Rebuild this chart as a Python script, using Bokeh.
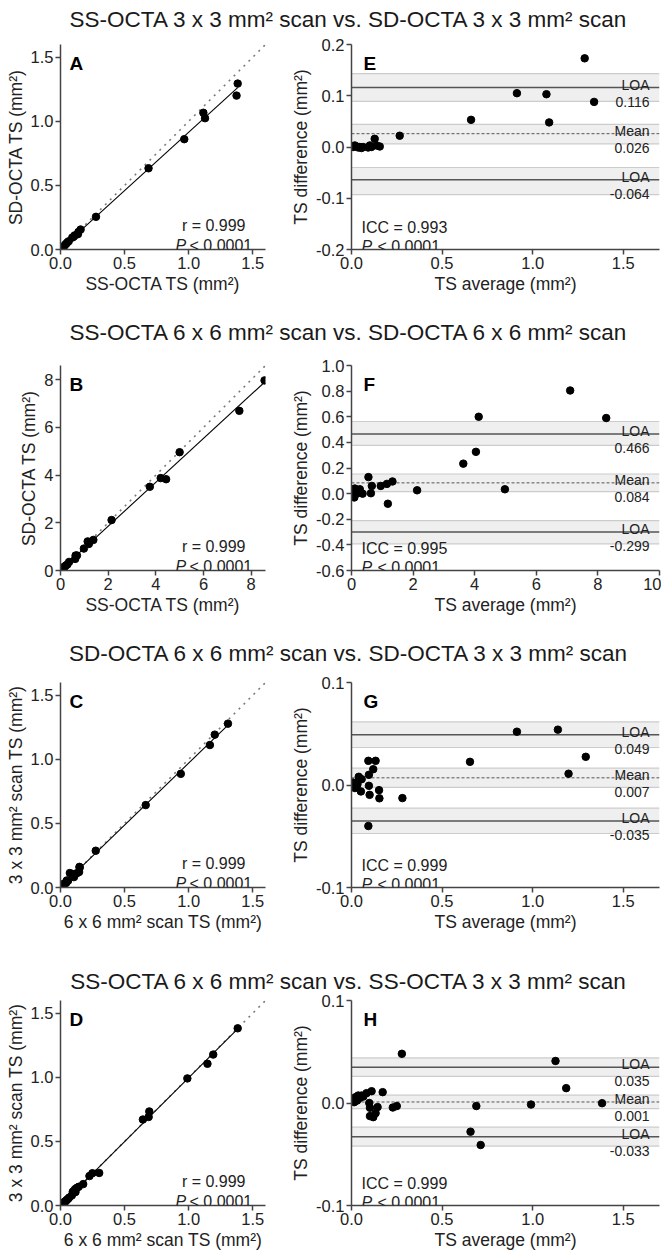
import numpy as np
from bokeh.plotting import figure
from bokeh.models import Div, Label, Span, BoxAnnotation, FixedTicker, NumeralTickFormatter, Range1d
from bokeh.layouts import column, row
from bokeh.embed import file_html
from bokeh.resources import INLINE

# ---------------- data ----------------
titles = [
    "SS-OCTA 3 x 3 mm² scan vs. SD-OCTA 3 x 3 mm² scan",
    "SS-OCTA 6 x 6 mm² scan vs. SD-OCTA 6 x 6 mm² scan",
    "SD-OCTA 6 x 6 mm² scan vs. SD-OCTA 3 x 3 mm² scan",
    "SS-OCTA 6 x 6 mm² scan vs. SS-OCTA 3 x 3 mm² scan",
]
left_letters = ["A", "B", "C", "D"]
right_letters = ["E", "F", "G", "H"]
scatter_xlabels = ["SS-OCTA TS (mm²)", "SS-OCTA TS (mm²)",
                   "6 x 6 mm² scan TS (mm²)", "6 x 6 mm² scan TS (mm²)"]
scatter_ylabels = ["SD-OCTA TS (mm²)", "SD-OCTA TS (mm²)",
                   "3 x 3 mm² scan TS (mm²)", "3 x 3 mm² scan TS (mm²)"]
ba_xlabel = "TS average (mm²)"
ba_ylabel = "TS difference (mm²)"
r_values = ["0.999", "0.999", "0.999", "0.999"]
icc_values = ["0.993", "0.995", "0.999", "0.999"]
p_value_text = "< 0.0001"

# Panel A (x: SS-OCTA 3x3, y: SD-OCTA 3x3)
A_x = [0.009, 0.020, 0.029, 0.037, 0.046, 0.054, 0.064, 0.092, 0.103, 0.110,
       0.136, 0.140, 0.157, 0.277, 0.687, 0.966, 1.128, 1.115, 1.374, 1.383]
A_y = [0.009, 0.017, 0.028, 0.038, 0.046, 0.056, 0.064, 0.093, 0.100, 0.110,
       0.120, 0.137, 0.156, 0.255, 0.634, 0.861, 1.025, 1.067, 1.201, 1.295]
# Panel E (Bland-Altman)
E_avg = [0.009, 0.018, 0.028, 0.037, 0.046, 0.055, 0.064, 0.092, 0.101, 0.110,
         0.128, 0.138, 0.156, 0.266, 0.660, 0.913, 1.076, 1.091, 1.287, 1.339]
E_diff = [0.000, 0.003, 0.001, -0.001, 0.000, -0.002, 0.000, -0.001, 0.003, 0.000,
          0.016, 0.003, 0.001, 0.022, 0.053, 0.105, 0.103, 0.048, 0.173, 0.088]
E_lines = [0.116, 0.026, -0.064]                       # upper LOA, mean, lower LOA
E_ci = [(0.089, 0.143), (0.006, 0.044), (-0.093, -0.040)]

# Panel B (x: SS-OCTA 6x6, y: SD-OCTA 6x6)
B_x = [0.010, 0.035, 0.045, 0.080, 0.075, 0.130, 0.145, 0.170, 0.230, 0.287,
       0.360, 0.615, 0.632, 0.690, 0.980, 1.188, 1.140, 1.378, 2.143, 3.747,
       4.203, 4.430, 4.997, 7.503, 8.560]
B_y = [0.010, 0.025, 0.055, 0.060, 0.105, 0.090, 0.135, 0.170, 0.210, 0.253,
       0.360, 0.486, 0.629, 0.630, 0.920, 1.112, 1.220, 1.283, 2.117, 3.513,
       3.877, 3.830, 4.963, 6.698, 7.975]
# Panel F
F_avg = [0.01, 0.03, 0.05, 0.07, 0.09, 0.11, 0.14, 0.17, 0.22, 0.27,
         0.36, 0.55, 0.63, 0.66, 0.95, 1.15, 1.18, 1.33, 2.13, 3.63,
         4.04, 4.13, 4.98, 7.10, 8.27]
F_diff = [0.000, 0.010, -0.010, 0.020, -0.030, 0.040, 0.010, 0.000, 0.020, 0.034,
          0.000, 0.129, 0.003, 0.060, 0.060, 0.076, -0.079, 0.095, 0.026, 0.234,
          0.326, 0.600, 0.034, 0.805, 0.590]
F_lines = [0.466, 0.084, -0.299]
F_ci = [(0.376, 0.563), (0.016, 0.153), (-0.392, -0.210)]

# Panel C (x: SD-OCTA 6x6, y: SD-OCTA 3x3)
C_x = [0.010, 0.017, 0.027, 0.033, 0.044, 0.049, 0.059, 0.105, 0.073, 0.101,
       0.096, 0.095, 0.128, 0.145, 0.150, 0.148, 0.275, 0.665, 0.939, 1.166,
       1.204, 1.307]
C_y = [0.008, 0.020, 0.029, 0.033, 0.036, 0.055, 0.053, 0.081, 0.113, 0.091,
       0.096, 0.105, 0.112, 0.121, 0.155, 0.161, 0.287, 0.643, 0.887, 1.112,
       1.193, 1.279]
# Panel G
G_avg = [0.009, 0.019, 0.028, 0.033, 0.040, 0.052, 0.056, 0.093, 0.093, 0.096,
         0.096, 0.100, 0.120, 0.133, 0.152, 0.154, 0.281, 0.654, 0.913, 1.139,
         1.198, 1.293]
G_diff = [0.0024, -0.0030, -0.0018, 0.0008, 0.0080, -0.0063, 0.0057, 0.0236, -0.0400, 0.0099,
          -0.0008, -0.0096, 0.0154, 0.0236, -0.0050, -0.0130, -0.0128, 0.0226, 0.0520, 0.0540,
          0.0110, 0.0275]
G_lines = [0.049, 0.007, -0.035]
G_ci = [(0.0366, 0.0616), (-0.0024, 0.0164), (-0.0473, -0.0226)]

# Panel D (x: SS-OCTA 6x6, y: SS-OCTA 3x3)
D_x = [0.011, 0.015, 0.025, 0.032, 0.041, 0.049, 0.060, 0.068, 0.088, 0.098,
       0.100, 0.096, 0.117, 0.113, 0.128, 0.142, 0.177, 0.226, 0.249, 0.302,
       0.643, 0.688, 0.693, 0.990, 1.147, 1.192, 1.383]
D_y = [0.007, 0.015, 0.019, 0.030, 0.033, 0.044, 0.052, 0.062, 0.078, 0.098,
       0.104, 0.108, 0.105, 0.127, 0.138, 0.146, 0.167, 0.230, 0.252, 0.254,
       0.671, 0.691, 0.734, 0.992, 1.106, 1.178, 1.383]
# Panel H
H_avg = [0.009, 0.015, 0.022, 0.031, 0.037, 0.046, 0.056, 0.065, 0.083, 0.098,
         0.102, 0.102, 0.111, 0.120, 0.133, 0.144, 0.172, 0.228, 0.250, 0.278,
         0.657, 0.689, 0.713, 0.991, 1.126, 1.185, 1.383]
H_diff = [0.0040, 0.0008, 0.0057, 0.0024, 0.0073, 0.0050, 0.0073, 0.0063, 0.0096, 0.0000,
          -0.0047, -0.0128, 0.0115, -0.0138, -0.0099, -0.0040, 0.0106, -0.0044, -0.0030, 0.0480,
          -0.0280, -0.0030, -0.0410, -0.0015, 0.0410, 0.0145, -0.0002]
H_lines = [0.035, 0.001, -0.033]
H_ci = [(0.026, 0.044), (-0.0054, 0.0076), (-0.042, -0.0236)]

# axis ranges / ticks
scatter_ranges = [((0, 1.6), (0, 1.6)), ((0, 8.6), (0, 8.6)), ((0, 1.6), (0, 1.6)), ((0, 1.6), (0, 1.6))]
scatter_ticks = [[0, 0.5, 1.0, 1.5], [0, 2, 4, 6, 8], [0, 0.5, 1.0, 1.5], [0, 0.5, 1.0, 1.5]]
scatter_fmt = ["0.0", "0", "0.0", "0.0"]
ba_xranges = [(0, 1.7), (0, 10), (0, 1.7), (0, 1.7)]
ba_yranges = [(-0.2, 0.2), (-0.6, 1.0), (-0.1, 0.1), (-0.1, 0.1)]
ba_xticks = [[0, 0.5, 1.0, 1.5], [0, 2, 4, 6, 8, 10], [0, 0.5, 1.0, 1.5], [0, 0.5, 1.0, 1.5]]
ba_yticks = [[-0.2, -0.1, 0.0, 0.1, 0.2], [-0.6, -0.4, -0.2, 0.0, 0.2, 0.4, 0.6, 0.8, 1.0],
             [-0.1, 0.0, 0.1], [-0.1, 0.0, 0.1]]
ba_xfmt = ["0.0", "0", "0.0", "0.0"]

scatter_data = [(A_x, A_y), (B_x, B_y), (C_x, C_y), (D_x, D_y)]
ba_data = [(E_avg, E_diff, E_lines, E_ci), (F_avg, F_diff, F_lines, F_ci),
           (G_avg, G_diff, G_lines, G_ci), (H_avg, H_diff, H_lines, H_ci)]

# ---------------- layout / style ----------------
FONT = "Liberation Sans"
TXT = "#222222"
AXC = "#444444"
TOTAL_W = 661
LEFT_W, LEFT_LB, LEFT_RB = 288, 60, 23
RIGHT_W, RIGHT_LB, RIGHT_RB = TOTAL_W - 288, 62, 2
TOP_B = 8
FRAME_H = 205
fig_heights = [274, 273, 276, 262]
div_heights = [36, 47, 44, 42]
title_offsets = [7, 10, 11, 19]


def make_fig(w, h, lb, rb, xr, yr):
    bb = h - TOP_B - FRAME_H
    p = figure(width=w, height=h, x_range=Range1d(*xr), y_range=Range1d(*yr),
               min_border_left=lb, min_border_right=rb, min_border_top=TOP_B,
               min_border_bottom=bb, toolbar_location=None, tools="",
               output_backend="svg", margin=(0, 0, 0, 0))
    p.grid.visible = False
    p.outline_line_color = None
    p.background_fill_color = "white"
    p.border_fill_color = "white"
    return p


def style_axes(p, xticks, yticks, xfmt, yfmt, xlabel, ylabel):
    p.xaxis.ticker = FixedTicker(ticks=xticks)
    p.yaxis.ticker = FixedTicker(ticks=yticks)
    p.xaxis.formatter = NumeralTickFormatter(format=xfmt)
    p.yaxis.formatter = NumeralTickFormatter(format=yfmt)
    p.xaxis.axis_label = xlabel
    p.yaxis.axis_label = ylabel
    for ax in (p.xaxis[0], p.yaxis[0]):
        ax.axis_line_color = AXC
        ax.axis_line_width = 1.5
        ax.major_tick_line_color = AXC
        ax.major_tick_line_width = 1.5
        ax.major_tick_out = 5
        ax.major_tick_in = 0
        ax.minor_tick_line_color = None
        ax.major_label_text_font = FONT
        ax.major_label_text_font_size = "16.5px"
        ax.major_label_text_color = TXT
        ax.major_label_standoff = 2
        ax.axis_label_text_font = FONT
        ax.axis_label_text_font_size = "17.5px"
        ax.axis_label_text_font_style = "normal"
        ax.axis_label_text_color = TXT
        ax.axis_label_standoff = 2


def pos(xr, yr, fw, dx_left, dy_bottom):
    x = xr[0] + dx_left / fw * (xr[1] - xr[0])
    y = yr[0] + dy_bottom / FRAME_H * (yr[1] - yr[0])
    return x, y


def label(p, x, y, text, size="16px", align="left", style="normal", color=TXT):
    p.add_layout(Label(x=x, y=y, text=text, text_font=FONT, text_font_size=size,
                       text_font_style=style, text_color=color, text_align=align,
                       text_baseline="alphabetic"))


blocks = []
for i in range(4):
    h = fig_heights[i]
    # ---- title ----
    title_html = (f'<div style="width:{TOTAL_W}px;box-sizing:border-box;padding-left:35px;text-align:center;'
                  f'font-family:\'Liberation Sans\',Arial,sans-serif;'
                  f'font-size:22.5px;color:#1a1a1a;line-height:26px;white-space:nowrap;'
                  f'margin-top:{title_offsets[i]}px">{titles[i]}</div>')
    blocks.append(Div(text=title_html, width=TOTAL_W, height=div_heights[i], margin=(0, 0, 0, 0)))

    # ---- scatter ----
    xr, yr = scatter_ranges[i]
    sx, sy = scatter_data[i]
    fw = LEFT_W - LEFT_LB - LEFT_RB
    pl = make_fig(LEFT_W, h, LEFT_LB, LEFT_RB, xr, yr)
    style_axes(pl, scatter_ticks[i], scatter_ticks[i], scatter_fmt[i], scatter_fmt[i],
               scatter_xlabels[i], scatter_ylabels[i])
    pl.line([0, xr[1]], [0, xr[1]], line_color="#7a7a7a", line_width=1.6, line_dash="2 5")
    slope, icpt = np.polyfit(np.array(sx), np.array(sy), 1)
    xs = np.array([min(sx), max(sx)])
    pl.line(xs, slope * xs + icpt, line_color="black", line_width=1.1)
    pl.scatter(sx, sy, size=7.5, marker="circle", fill_color="black", line_color="black")
    x, y = pos(xr, yr, fw, 9, FRAME_H - 19)
    label(pl, x, y, left_letters[i], size="19px", style="bold", color="black")
    x, y = pos(xr, yr, fw, fw - 20, 24)
    label(pl, x, y, "r = " + r_values[i], align="right")
    x, y = pos(xr, yr, fw, fw - 90, 4)
    label(pl, x, y, "P", style="italic")
    x, y = pos(xr, yr, fw, fw - 76, 4)
    label(pl, x, y, p_value_text)

    # ---- Bland-Altman ----
    bxr, byr = ba_xranges[i], ba_yranges[i]
    avg, diff, lines, cis = ba_data[i]
    bw = RIGHT_W - RIGHT_LB - RIGHT_RB
    pr = make_fig(RIGHT_W, h, RIGHT_LB, RIGHT_RB, bxr, byr)
    style_axes(pr, ba_xticks[i], ba_yticks[i], ba_xfmt[i], "0.0", ba_xlabel, ba_ylabel)
    for lo, hi in cis:
        pr.add_layout(BoxAnnotation(bottom=lo, top=hi, fill_color="#efefef", fill_alpha=1.0,
                                    line_color=None, level="underlay"))
    for lo, hi in cis:
        for v in (lo, hi):
            pr.add_layout(Span(location=v, dimension="width", line_color="#cccccc",
                               line_width=1.2, level="underlay"))
    for k, v in enumerate(lines):
        pr.add_layout(Span(location=v, dimension="width", line_color="#555555",
                           line_width=1.0 if k == 1 else 1.5,
                           line_dash="3 2" if k == 1 else "solid", level="underlay"))
    pr.scatter(avg, diff, size=7.5, marker="circle", fill_color="black", line_color="black")
    x, y = pos(bxr, byr, bw, 12, FRAME_H - 19)
    label(pr, x, y, right_letters[i], size="19px", style="bold", color="black")
    x, y = pos(bxr, byr, bw, 10, 22)
    label(pr, x, y, "ICC = " + icc_values[i])
    x, y = pos(bxr, byr, bw, 10, 3)
    label(pr, x, y, "P", style="italic")
    x, y = pos(bxr, byr, bw, 26, 3)
    label(pr, x, y, p_value_text)
    dpx = (byr[1] - byr[0]) / FRAME_H
    names = ["LOA", "Mean", "LOA"]
    xr_lab = bxr[0] + (bw - 10) / bw * (bxr[1] - bxr[0])
    for k, v in enumerate(lines):
        label(pr, xr_lab, v + 3 * dpx, names[k], size="14px", align="right")
        label(pr, xr_lab, v - 14 * dpx, f"{v:.3f}", size="14px", align="right")

    blocks.append(row(pl, pr, spacing=0, margin=(0, 0, 0, 0)))

page = column(*blocks, spacing=0, margin=(0, 0, 0, 0))
open("out.html", "w").write(file_html(page, INLINE, title="TS agreement"))
